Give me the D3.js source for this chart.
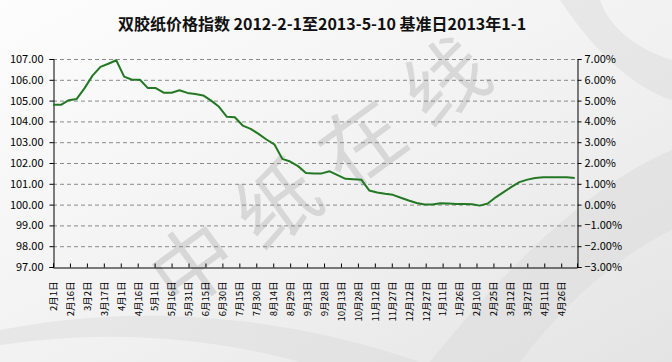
<!DOCTYPE html>
<html>
<head>
<meta charset="utf-8">
<script src="https://cdn.jsdelivr.net/npm/d3@7"></script>
<style>
  body { margin: 0; background: #fff; }
  svg { display: block; }
  text { font-family: SimSun, "Noto Sans CJK SC", sans-serif; }
</style>
</head>
<body>
<div id="chart"></div>
<script>
// weekly index values, first point 2012-02-01 (base 2013-01-01 = 100)
const startDate = "2012-02-01";
const endDate = "2013-05-10";
const indexValues = [
  104.8, 104.8, 105.02, 105.08, 105.6, 106.2, 106.62, 106.77, 106.94, 106.15,
  106.0, 106.0, 105.6, 105.6, 105.38, 105.38, 105.5, 105.37, 105.32, 105.25,
  105.0, 104.7, 104.22, 104.2, 103.8, 103.64, 103.4, 103.13, 102.9, 102.2,
  102.07, 101.85, 101.52, 101.5, 101.5, 101.6, 101.42, 101.24, 101.22, 101.2,
  100.68, 100.58, 100.52, 100.47, 100.33, 100.2, 100.08, 100.0, 100.0, 100.06,
  100.05, 100.03, 100.03, 100.02, 99.95, 100.05, 100.35, 100.6, 100.85, 101.08,
  101.2, 101.28, 101.32, 101.32, 101.32, 101.32, 101.28
];
const tickDates = [
  "2012-02-01", "2012-02-16", "2012-03-02", "2012-03-17", "2012-04-01", "2012-04-16",
  "2012-05-01", "2012-05-16", "2012-05-31", "2012-06-15", "2012-06-30", "2012-07-15",
  "2012-07-30", "2012-08-14", "2012-08-29", "2012-09-13", "2012-09-28", "2012-10-13",
  "2012-10-28", "2012-11-12", "2012-11-27", "2012-12-12", "2012-12-27", "2013-01-11",
  "2013-01-26", "2013-02-10", "2013-02-25", "2013-03-12", "2013-03-27", "2013-04-11",
  "2013-04-26"
];
const leftTicks = [97, 98, 99, 100, 101, 102, 103, 104, 105, 106, 107];
const rightTicks = [-3, -2, -1, 0, 1, 2, 3, 4, 5, 6, 7];
const titleText = "双胶纸价格指数 2012-2-1至2013-5-10 基准日2013年1-1";
const watermark = "中纸在线";

const W = 672, H = 362;
const margin = {top: 59, right: 95, bottom: 95, left: 53};
const parse = d3.timeParse("%Y-%m-%d");

const start = parse(startDate);
const data = indexValues.map((v, i) => ({date: d3.timeDay.offset(start, i * 7), value: v}));

const svg = d3.select("#chart").append("svg")
  .attr("width", W).attr("height", H);

// background
const defs = svg.append("defs");
const grad = defs.append("linearGradient").attr("id", "bg")
  .attr("x1", "0").attr("y1", "0").attr("x2", "1").attr("y2", "1");
grad.append("stop").attr("offset", "0%").attr("stop-color", "#fdfdfd");
grad.append("stop").attr("offset", "55%").attr("stop-color", "#f1f1f1");
grad.append("stop").attr("offset", "100%").attr("stop-color", "#e4e4e4");
svg.append("rect").attr("width", W).attr("height", H).attr("fill", "url(#bg)");

// faint swooshes
const sw = svg.append("g").attr("fill", "#dadada").attr("opacity", 0.45);
sw.append("path").attr("d", "M430,362 C520,250 600,180 672,150 L672,230 C610,260 560,310 520,362 Z");
sw.append("path").attr("d", "M560,0 C600,60 640,90 672,100 L672,60 C640,50 610,30 600,0 Z");
sw.append("path").attr("d", "M0,330 C150,300 300,320 420,362 L300,362 C200,335 100,330 0,345 Z");

// watermark, one glyph at a time along a diagonal
const wmAngle = -36, wmStep = 104, wmCx = 320, wmCy = 174;
const rad = wmAngle * Math.PI / 180;
svg.append("g")
  .selectAll("text").data(Array.from(watermark)).join("text")
  .attr("transform", (d, i) => {
    const k = i - (watermark.length - 1) / 2;
    return `translate(${wmCx + k * wmStep * Math.cos(rad)},${wmCy + k * wmStep * Math.sin(rad)}) rotate(${wmAngle})`;
  })
  .attr("text-anchor", "middle")
  .attr("dy", "0.35em")
  .style("font-size", "82px")
  .style("font-family", "'Noto Sans CJK SC', sans-serif")
  .attr("fill", "#b0b0b0")
  .attr("opacity", 0.4)
  .text(d => d);

const x = d3.scaleTime().domain([parse(startDate), parse(endDate)])
  .range([margin.left, W - margin.right]);
const y = d3.scaleLinear().domain([97, 107]).range([H - margin.bottom, margin.top]);
const y2 = d3.scaleLinear().domain([-3, 7]).range([H - margin.bottom, margin.top]);

// grid
svg.append("g")
  .selectAll("line").data(leftTicks.slice(1)).join("line")
  .attr("x1", margin.left).attr("x2", W - margin.right)
  .attr("y1", d => y(d) + 0.5).attr("y2", d => y(d) + 0.5)
  .attr("stroke", "#8a8a8a").attr("stroke-dasharray", "4,3");

// title
svg.append("text")
  .attr("x", 322).attr("y", 30)
  .attr("text-anchor", "middle")
  .style("font-size", "16px").style("font-weight", "bold")
  .attr("fill", "#111")
  .text(titleText);

// axes
const leftAxis = d3.axisLeft(y).tickValues(leftTicks).tickSize(4).tickFormat(d3.format(".2f"));
const rightAxis = d3.axisRight(y2).tickValues(rightTicks).tickSize(4).tickFormat(d => d3.format(".2f")(d) + "%");
const bottomAxis = d3.axisBottom(x).tickValues(tickDates.map(parse)).tickSize(-4)
  .tickFormat(d => (d.getMonth() + 1) + "月" + d.getDate() + "日");

function styleAxis(g) {
  g.select(".domain").attr("stroke", "#000");
  g.selectAll(".tick line").attr("stroke", "#000");
  g.selectAll("text").attr("fill", "#000").style("font-size", "11px");
}

svg.append("g").attr("transform", `translate(${margin.left + 0.5},0)`)
  .call(leftAxis).call(styleAxis)
  .call(g => g.selectAll("text").attr("x", -10));

svg.append("g").attr("transform", `translate(${W - margin.right + 0.5},0)`)
  .call(rightAxis).call(styleAxis)
  .call(g => g.selectAll("text").attr("x", 7));

svg.append("g").attr("transform", `translate(0,${H - margin.bottom + 0.5})`)
  .call(bottomAxis).call(styleAxis)
  .call(g => g.selectAll("text")
    .style("font-size", "9.5px")
    .attr("text-anchor", "end")
    .attr("transform", "rotate(-90)")
    .attr("x", -14).attr("y", 0).attr("dy", "0.35em"));

// line
const line = d3.line().x(d => x(d.date)).y(d => y(d.value));
svg.append("path").datum(data)
  .attr("d", line)
  .attr("fill", "none")
  .attr("stroke", "#237823")
  .attr("stroke-width", 2)
  .attr("stroke-linejoin", "round");
</script>
</body>
</html>
